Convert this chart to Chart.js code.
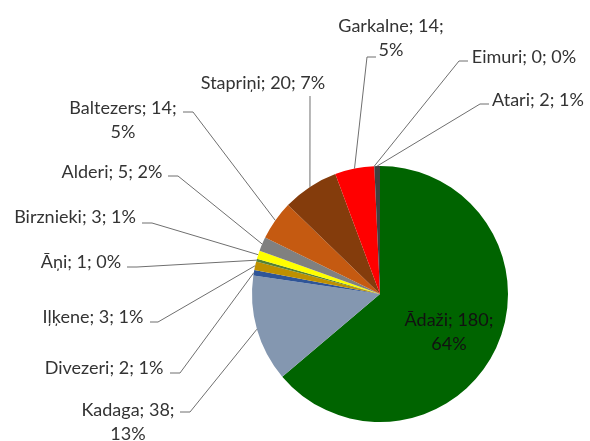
<!DOCTYPE html>
<html>
<head>
<meta charset="utf-8">
<script src="https://cdn.jsdelivr.net/npm/chart.js@4"></script>
<style>
  html, body { margin: 0; padding: 0; background: #fff; }
  #wrap { width: 590px; height: 441px; }
</style>
</head>
<body>
<div id="wrap"><canvas id="myChart" width="590" height="441"></canvas></div>
<script>
const ctx = document.getElementById('myChart');

// ciemi un vērtības
const labels = ['Ādaži', 'Kadaga', 'Divezeri', 'Iļķene', 'Āņi', 'Birznieki', 'Alderi', 'Baltezers', 'Stapriņi', 'Garkalne', 'Eimuri', 'Atari'];
const values = [180, 38, 2, 3, 1, 3, 5, 14, 20, 14, 0, 2];
const colors = ['#006400', '#8497B0', '#2F5597', '#BF9000', '#548235', '#FFFF00', '#808080', '#C55A11', '#843C0C', '#FF0000', '#A5A5A5', '#404040'];

const total = values.reduce((a, b) => a + b, 0);

// label placement: [centerX, firstLineY, elbowX, elbowY, stubX, breakAfterValue]
const labelPos = [
  [449, 320, null, null, null, true],
  [128, 410, 190, 412, 180, true],
  [104, 368, 180, 373, 170, false],
  [93, 317, 158, 322, 150, false],
  [81, 262, 137, 267, 127, false],
  [75, 217, 152, 223, 142, false],
  [112, 172, 178, 176, 168, false],
  [123, 108, 193, 112, 183, true],
  [263, 83, 310, 96, 310, false],
  [391, 26, 367, 57, 376, true],
  [524, 57, 459, 61, 468, false],
  [538, 100, 480, 104, 489, false]
];

const labelPlugin = {
  id: 'pieLabels',
  afterDatasetsDraw(chart) {
    const c = chart.ctx;
    const arcs = chart.getDatasetMeta(0).data;
    c.save();
    c.font = '18px Lato';
    c.textAlign = 'center';
    c.textBaseline = 'middle';
    arcs.forEach((arc, i) => {
      const p = labelPos[i];
      const pct = Math.round(values[i] / total * 100) + '%';
      const lines = p[5]
        ? [labels[i] + '; ' + values[i] + ';', pct]
        : [labels[i] + '; ' + values[i] + '; ' + pct];
      if (p[2] !== null) {
        const mid = (arc.startAngle + arc.endAngle) / 2;
        const ax = arc.x + Math.cos(mid) * arc.outerRadius;
        const ay = arc.y + Math.sin(mid) * arc.outerRadius;
        c.strokeStyle = '#6f6f6f';
        c.lineWidth = 1;
        c.beginPath();
        c.moveTo(ax, ay);
        c.lineTo(p[2], p[3]);
        c.lineTo(p[4], p[3]);
        c.stroke();
      }
      c.fillStyle = i === 0 ? '#111' : '#333';
      lines.forEach((t, k) => c.fillText(t, p[0], p[1] + k * 24));
    });
    c.restore();
  }
};

const data = {
  labels: labels,
  datasets: [{
    data: values,
    backgroundColor: colors,
    borderWidth: 0
  }]
};

const config = {
  type: 'pie',
  data: data,
  options: {
    responsive: false,
    animation: false,
    layout: {
      padding: { left: 252, right: 82, top: 166, bottom: 19 }
    },
    plugins: {
      legend: { display: false },
      tooltip: { enabled: false }
    }
  },
  plugins: [labelPlugin]
};

const myChart = new Chart(ctx, config);
</script>
</body>
</html>
